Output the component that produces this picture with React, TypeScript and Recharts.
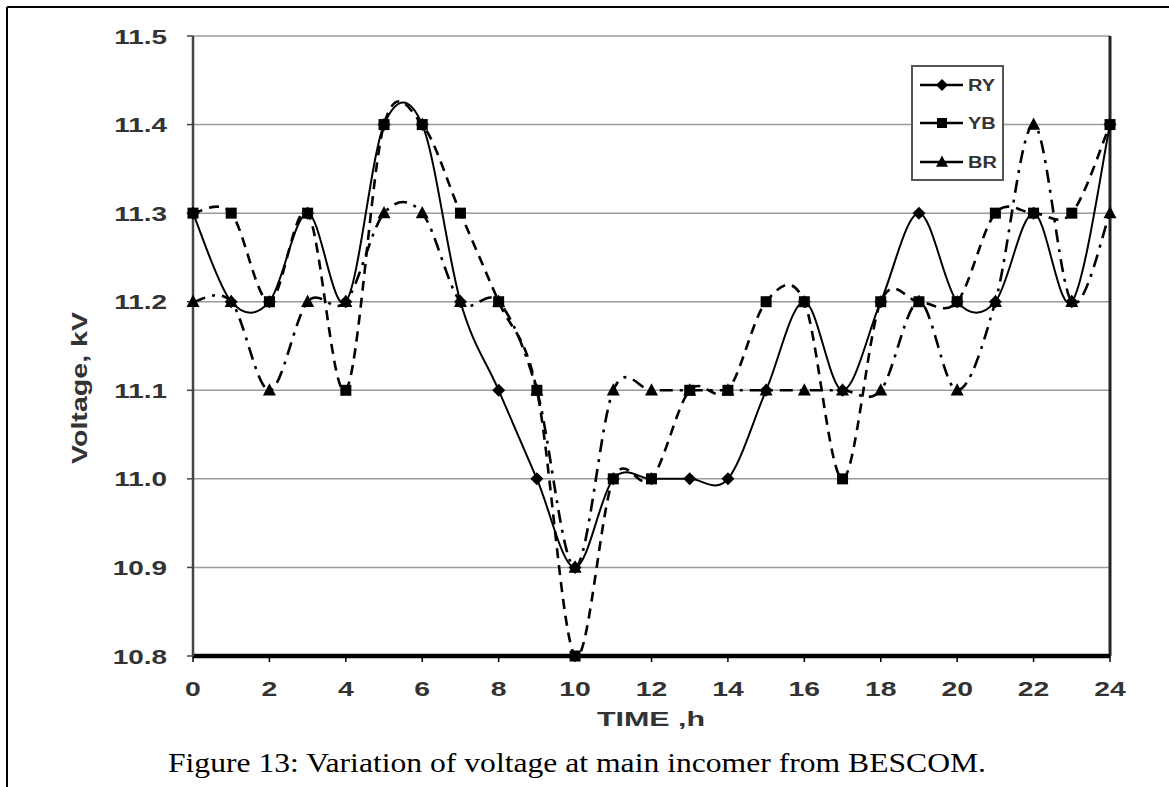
import React from "react";
import { LineChart, Line, XAxis, YAxis, CartesianGrid, ReferenceLine } from "recharts";

const hours = [0, 1, 2, 3, 4, 5, 6, 7, 8, 9, 10, 11, 12, 13, 14, 15, 16, 17, 18, 19, 20, 21, 22, 23, 24];
const ryValues = [11.3, 11.2, 11.2, 11.3, 11.2, 11.4, 11.4, 11.2, 11.1, 11.0, 10.9, 11.0, 11.0, 11.0, 11.0, 11.1, 11.2, 11.1, 11.2, 11.3, 11.2, 11.2, 11.3, 11.2, 11.4];
const ybValues = [11.3, 11.3, 11.2, 11.3, 11.1, 11.4, 11.4, 11.3, 11.2, 11.1, 10.8, 11.0, 11.0, 11.1, 11.1, 11.2, 11.2, 11.0, 11.2, 11.2, 11.2, 11.3, 11.3, 11.3, 11.4];
const brValues = [11.2, 11.2, 11.1, 11.2, 11.2, 11.3, 11.3, 11.2, 11.2, 11.1, 10.9, 11.1, 11.1, 11.1, 11.1, 11.1, 11.1, 11.1, 11.1, 11.2, 11.1, 11.2, 11.4, 11.2, 11.3];
const xTicks = [0, 2, 4, 6, 8, 10, 12, 14, 16, 18, 20, 22, 24];
const yTicks = [10.8, 10.9, 11.0, 11.1, 11.2, 11.3, 11.4, 11.5];
const seriesNames = ["RY", "YB", "BR"];
const xTitle = "TIME ,h";
const yTitle = "Voltage, kV";
const caption = "Figure 13: Variation of voltage at main incomer from BESCOM.";

const data = hours.map((h, i) => ({ hour: h, RY: ryValues[i], YB: ybValues[i], BR: brValues[i] }));

const SANS = "'Liberation Sans', Arial, Helvetica, sans-serif";
const SERIF = "'Liberation Serif', 'Times New Roman', serif";

// Excel-like smoothed line (Catmull-Rom Bezier)
const excelCurve: any = (context: any) => {
  let pts: number[][] = [];
  return {
    areaStart() {},
    areaEnd() {},
    lineStart() {
      pts = [];
    },
    point(x: number, y: number) {
      pts.push([+x, +y]);
    },
    lineEnd() {
      const n = pts.length;
      if (n === 0) return;
      context.moveTo(pts[0][0], pts[0][1]);
      for (let i = 0; i < n - 1; i++) {
        const p0 = pts[i > 0 ? i - 1 : i];
        const p1 = pts[i];
        const p2 = pts[i + 1];
        const p3 = pts[i + 2 < n ? i + 2 : i + 1];
        context.bezierCurveTo(
          p1[0] + (p2[0] - p0[0]) / 6,
          p1[1] + (p2[1] - p0[1]) / 6,
          p2[0] - (p3[0] - p1[0]) / 6,
          p2[1] - (p3[1] - p1[1]) / 6,
          p2[0],
          p2[1]
        );
      }
    },
  };
};

const diamondPath = (cx: number, cy: number, r: number) =>
  `M${cx},${cy - r}L${cx + r},${cy}L${cx},${cy + r}L${cx - r},${cy}Z`;
const squarePath = (cx: number, cy: number, s: number) =>
  `M${cx - s / 2},${cy - s / 2}h${s}v${s}h${-s}Z`;
const trianglePath = (cx: number, cy: number, s: number) =>
  `M${cx},${cy - s * 0.55}L${cx + s / 2},${cy + s * 0.4}L${cx - s / 2},${cy + s * 0.4}Z`;

const makeDot = (kind: string) => (props: any) => {
  const { cx, cy, index } = props;
  if (cx == null || cy == null) return <g key={`${kind}-${index}`} />;
  let d = "";
  if (kind === "RY") d = diamondPath(cx, cy, 6.5);
  else if (kind === "YB") d = squarePath(cx, cy, 11);
  else d = trianglePath(cx, cy, 13);
  return <path key={`${kind}-${index}`} d={d} fill="#000" stroke="none" />;
};

const YTick = (props: any) => {
  const { x, y, payload } = props;
  return (
    <g transform={`translate(${x},${y})`}>
      <text
        x={0}
        y={0}
        dy="0.36em"
        textAnchor="end"
        transform="scale(1.33,1)"
        fontFamily={SANS}
        fontWeight="bold"
        fontSize={21}
        fill="#333"
      >
        {Number(payload.value).toFixed(1)}
      </text>
    </g>
  );
};

const XTick = (props: any) => {
  const { x, payload } = props;
  return (
    <g transform={`translate(${x},${681})`}>
      <text
        x={0}
        y={0}
        dy="0.72em"
        textAnchor="middle"
        transform="scale(1.35,1)"
        fontFamily={SANS}
        fontWeight="bold"
        fontSize={21}
        fill="#333"
      >
        {payload.value}
      </text>
    </g>
  );
};

export default function App() {
  return (
    <div style={{ position: "absolute", left: 0, top: 0, width: 1169, height: 787, background: "#fff" }}>
      <LineChart
        width={1169}
        height={787}
        data={data}
        margin={{ top: 36, right: 59, left: 0, bottom: 0 }}
      >
        <CartesianGrid horizontal={true} vertical={false} stroke="#9a9a9a" strokeWidth={1.5} />
        <XAxis
          dataKey="hour"
          type="number"
          domain={[0, 24]}
          ticks={xTicks}
          height={131}
          tick={<XTick />}
          tickSize={6}
          axisLine={{ stroke: "#000", strokeWidth: 4.5 }}
          tickLine={{ stroke: "#000", strokeWidth: 1.5 }}
          interval={0}
        />
        <YAxis
          type="number"
          domain={[10.8, 11.5]}
          ticks={yTicks}
          width={193}
          tick={<YTick />}
          tickSize={6}
          tickMargin={20}
          axisLine={{ stroke: "#444", strokeWidth: 2.5 }}
          tickLine={{ stroke: "#444", strokeWidth: 1.5 }}
          interval={0}
        />
        <ReferenceLine x={24} stroke="#222" strokeWidth={3} />
        <Line
          dataKey="BR"
          type={excelCurve}
          stroke="#000"
          strokeWidth={2.6}
          strokeDasharray="13 7 3 7"
          dot={makeDot("BR")}
          activeDot={false}
          isAnimationActive={false}
        />
        <Line
          dataKey="YB"
          type={excelCurve}
          stroke="#000"
          strokeWidth={2.6}
          strokeDasharray="10 7"
          dot={makeDot("YB")}
          activeDot={false}
          isAnimationActive={false}
        />
        <Line
          dataKey="RY"
          type={excelCurve}
          stroke="#000"
          strokeWidth={2}
          dot={makeDot("RY")}
          activeDot={false}
          isAnimationActive={false}
        />
      </LineChart>
      <svg
        width={1169}
        height={787}
        style={{ position: "absolute", left: 0, top: 0, pointerEvents: "none" }}
      >
        <line x1={7} y1={7} x2={1169} y2={7} stroke="#000" strokeWidth={2} />
        <line x1={7} y1={7} x2={7} y2={787} stroke="#000" strokeWidth={2} />
        {/* legend */}
        <rect x={912} y={66} width={91} height={114} fill="#fff" stroke="#555" strokeWidth={2} />
        {seriesNames.map((name, i) => {
          const cy = [85, 123, 162][i];
          const d = i === 0 ? diamondPath(942, cy, 6) : i === 1 ? squarePath(942, cy, 10) : trianglePath(942, cy, 12);
          return (
            <g key={name}>
              <line x1={920} y1={cy} x2={963} y2={cy} stroke="#000" strokeWidth={2.5} />
              <path d={d} fill="#000" />
              <g transform={`translate(968,${cy})`}>
                <text
                  x={0}
                  y={0}
                  dy="0.36em"
                  transform="scale(1.25,1)"
                  fontFamily={SANS}
                  fontWeight="bold"
                  fontSize={16}
                  fill="#333"
                >
                  {name}
                </text>
              </g>
            </g>
          );
        })}
        <g transform="translate(651,726)">
          <text x={0} y={0} textAnchor="middle" transform="scale(1.45,1)" fontFamily={SANS} fontWeight="bold" fontSize={21} fill="#333">
            {xTitle}
          </text>
        </g>
        <g transform="translate(87,388) rotate(-90)">
          <text x={0} y={0} textAnchor="middle" transform="scale(1.3,1)" fontFamily={SANS} fontWeight="bold" fontSize={22} fill="#333">
            {yTitle}
          </text>
        </g>
        <text
          x={577}
          y={772}
          textAnchor="middle"
          textLength={818}
          lengthAdjust="spacingAndGlyphs"
          fontFamily={SERIF}
          fontSize={27}
          fill="#000"
        >
          {caption}
        </text>
      </svg>
    </div>
  );
}
